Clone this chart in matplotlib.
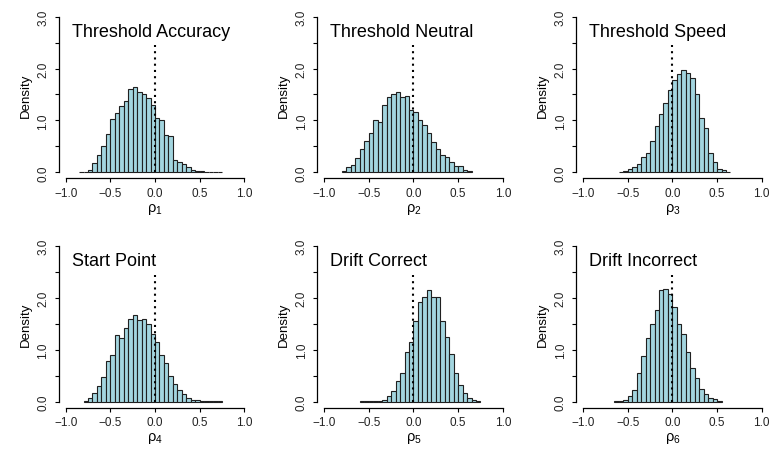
import numpy as np
import matplotlib.pyplot as plt

plt.rcParams['font.family'] = ['Liberation Sans', 'DejaVu Sans']
plt.rcParams['mathtext.fontset'] = 'custom'
plt.rcParams['mathtext.rm'] = 'Liberation Sans'

# panel titles and axis labels
titles = ['Threshold Accuracy', 'Threshold Neutral', 'Threshold Speed',
          'Start Point', 'Drift Correct', 'Drift Incorrect']
xlabels = ['\u03c1$_\\mathrm{1}$', '\u03c1$_\\mathrm{2}$', '\u03c1$_\\mathrm{3}$',
           '\u03c1$_\\mathrm{4}$', '\u03c1$_\\mathrm{5}$', '\u03c1$_\\mathrm{6}$']

# histogram bins: width 0.05, first left edge per panel
bin_width = 0.05
bin_start = [-0.85, -0.80, -0.60, -0.80, -0.60, -0.65]

dens_thr_acc = [0.01, 0.01, 0.05, 0.18, 0.33, 0.50, 0.73, 1.03, 1.15, 1.27, 1.38,
                1.60, 1.65, 1.55, 1.50, 1.43, 1.30, 1.05, 1.00, 0.72, 0.70, 0.23,
                0.20, 0.15, 0.10, 0.05, 0.03, 0.02, 0.01, 0.01, 0.01, 0.01]
dens_thr_neu = [0.02, 0.10, 0.14, 0.28, 0.45, 0.60, 0.75, 1.00, 0.97, 1.30, 1.45,
                1.50, 1.55, 1.45, 1.47, 1.20, 1.17, 1.00, 0.92, 0.75, 0.58, 0.45,
                0.33, 0.30, 0.20, 0.12, 0.12, 0.05, 0.02]
dens_thr_spd = [0.01, 0.03, 0.06, 0.10, 0.16, 0.30, 0.38, 0.60, 0.90, 1.13, 1.33,
                1.58, 1.77, 1.90, 1.97, 1.92, 1.82, 1.50, 1.05, 0.85, 0.38, 0.20,
                0.07, 0.04, 0.01]
dens_start = [0.01, 0.07, 0.17, 0.30, 0.48, 0.78, 0.90, 1.28, 1.22, 1.42, 1.60,
              1.68, 1.58, 1.60, 1.50, 1.30, 1.15, 0.90, 0.75, 0.50, 0.35, 0.22,
              0.15, 0.08, 0.04, 0.03, 0.02, 0.02, 0.01, 0.01, 0.01]
dens_drift_c = [0.01, 0.01, 0.01, 0.01, 0.02, 0.04, 0.10, 0.20, 0.40, 0.55, 0.95,
                1.15, 1.55, 1.93, 2.02, 2.15, 2.02, 2.02, 1.55, 1.25, 0.92, 0.55,
                0.33, 0.17, 0.08, 0.04, 0.01]
dens_drift_i = [0.01, 0.02, 0.04, 0.10, 0.22, 0.55, 0.88, 1.22, 1.50, 1.77, 2.15,
                2.17, 2.07, 1.83, 1.50, 1.30, 0.95, 0.65, 0.45, 0.25, 0.15, 0.07,
                0.05, 0.02]

densities = [dens_thr_acc, dens_thr_neu, dens_thr_spd, dens_start, dens_drift_c, dens_drift_i]

fig = plt.figure(figsize=(7.73, 4.56), dpi=100)

lefts = [0.0757, 0.410, 0.745]
bottoms = [0.6064, 0.1033]
w, h = 0.2497, 0.3684

for i in range(6):
    ax = fig.add_axes([lefts[i % 3], bottoms[i // 3], w, h])
    d = densities[i]
    edges = bin_start[i] + bin_width * np.arange(len(d))
    ax.bar(edges, d, width=bin_width, align='edge', color='#a3d5df',
           edgecolor='#202020', linewidth=0.8, zorder=2)
    ax.plot([0, 0], [0, 2.45], color='black', lw=1.5,
            linestyle=(0, (1, 2.0)), zorder=3)
    ax.text(-0.93, 2.72, titles[i], ha='left', va='center', fontsize=13)

    ax.set_xlim(-1.08, 1.08)
    ax.set_ylim(-0.12, 3.12)
    for s in ['top', 'right']:
        ax.spines[s].set_visible(False)
    ax.spines['left'].set_bounds(0, 3)
    ax.spines['bottom'].set_bounds(-1, 1)
    ax.spines['left'].set_linewidth(0.9)
    ax.spines['bottom'].set_linewidth(0.9)

    ax.set_xticks([-1.0, -0.5, 0.0, 0.5, 1.0])
    ax.set_xticklabels(['\u22121.0', '\u22120.5', '0.0', '0.5', '1.0'])
    ax.set_yticks([0, 0.5, 1, 1.5, 2, 2.5, 3])
    ax.set_yticklabels(['0.0', '', '1.0', '', '2.0', '', '3.0'])
    ax.tick_params(axis='both', length=3, width=0.8, labelsize=8.5, labelcolor='#222222')
    ax.tick_params(axis='x', pad=3)
    ax.tick_params(axis='y', pad=3.5, labelrotation=90)
    for lab in ax.get_yticklabels():
        lab.set_va('center')

    ax.set_ylabel('Density', fontsize=9.5, labelpad=4)
    ax.set_xlabel(xlabels[i], fontsize=10.5, labelpad=1.5)

plt.savefig('out.png', dpi=100)
